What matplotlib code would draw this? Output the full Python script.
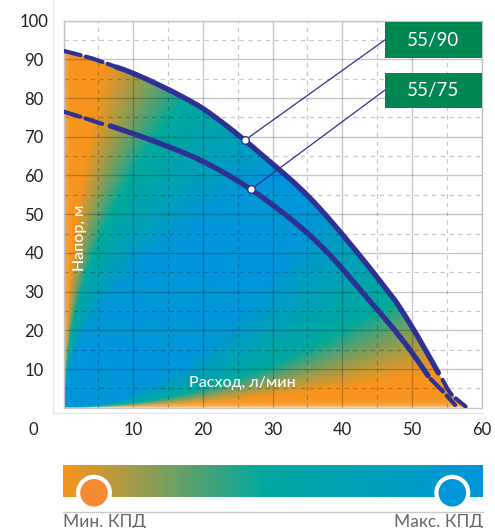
import numpy as np
import matplotlib

matplotlib.use("Agg")
import matplotlib.pyplot as plt
from matplotlib.colors import LinearSegmentedColormap
from matplotlib.lines import Line2D
from matplotlib.path import Path
from matplotlib.patches import PathPatch, Rectangle, Circle

plt.rcParams["font.family"] = ["Lato", "Noto Sans", "DejaVu Sans"]

# --- data (flow l/min, head m) ---
flow_90_head = [0, 4.0, 7.6]
head_90_head = [92.2, 90.3, 88.0]
flow_90 = [7.6, 10, 13.8, 17.2, 20, 23, 26, 29, 32.5, 35.3, 38.2, 41.1, 44, 46.8,
           48, 50.7, 53.8]
head_90 = [88.0, 86.4, 83.3, 80.2, 77.3, 73.4, 69.1, 64.5, 59.1, 54.3, 48.6, 42.4,
           36.0, 29.5, 26.6, 18.8, 9.0]
flow_90_tail = [54.4, 55.6, 57.7]
head_90_tail = [7.2, 3.6, 0.3]

flow_75_head = [0, 3.4, 5.6]
head_75_head = [76.5, 74.6, 73.3]
flow_75 = [6.7, 10, 13.8, 18, 21, 23.9, 26.9, 29.7, 32.5, 35.3, 38.2, 41.1, 43.5,
           46.8, 49.7, 52.3]
head_75 = [72.8, 70.8, 68.3, 65.3, 62.7, 59.8, 56.4, 52.8, 48.9, 44.6, 39.5, 33.6,
           28.5, 21.6, 15.0, 8.3]
flow_75_tail = [52.7, 54.4, 56.2]
head_75_tail = [7.4, 4.3, 0.7]

marker_90 = (26.0, 69.1)
marker_75 = (26.9, 56.4)
labels = ["55/90", "55/75"]
label_y = [(90.3, 99.7), (77.5, 86.6)]

x_ticks = [0, 10, 20, 30, 40, 50, 60]
y_ticks = [10, 20, 30, 40, 50, 60, 70, 80, 90, 100]

NAVY = "#2e3192"
GREEN = "#008751"
ORANGE = "#f7941d"
TEAL = "#00a99d"
BLUE = "#0096d9"
TEXT = "#231f20"

W, H = 495, 528
fig = plt.figure(figsize=(W / 100, H / 100), dpi=100)


def fx(px):
    return px / W


def fy(py):
    return 1 - py / H


def smooth_segments(pts, i0, i1):
    """Catmull-Rom through pts[i0..i1] as cubic Bezier vertices/codes."""
    pts = np.asarray(pts, float)
    n = len(pts)
    verts, codes = [pts[i0]], [Path.MOVETO]
    for i in range(i0, i1):
        p0 = pts[max(i - 1, 0)]
        p1, p2 = pts[i], pts[i + 1]
        p3 = pts[min(i + 2, n - 1)]
        verts += [p1 + (p2 - p0) / 6, p2 - (p3 - p1) / 6, p2]
        codes += [Path.CURVE4] * 3
    return verts, codes


ax = fig.add_axes([fx(63.6), fy(407.7), (481.6 - 63.6) / W, (407.7 - 20.7) / H])
ax.set_xlim(0, 60)
ax.set_ylim(0, 100)

pts_90 = list(zip(flow_90_head, head_90_head))[:-1] + list(zip(flow_90, head_90)) + \
    list(zip(flow_90_tail, head_90_tail))
pts_75 = list(zip(flow_75_head, head_75_head)) + list(zip(flow_75, head_75)) + \
    list(zip(flow_75_tail, head_75_tail))

# efficiency gradient (orange near the axes, blue in the middle)
eff_cmap = LinearSegmentedColormap.from_list(
    "eff", [(0, ORANGE), (0.476, TEAL), (1, BLUE)])
gx, gy = np.meshgrid(np.linspace(0, 60, 600), np.linspace(0, 100, 1000))
u, v = gx / 60, gy / 100
r = np.minimum(v / (u ** 2 + 1e-9), u / (v ** 2 + 1e-9))
p = np.interp(r, [0, 0.12, 0.45, 0.7, 1.35], [0, 0, 0.476, 0.64, 1])
rgb = eff_cmap(p)[..., :3]
fade = (1 - p) * (0.55 * np.exp(-gy / 0.7) + 0.35 * np.exp(-gx / 0.35))
rgb = rgb * (1 - fade[..., None]) + fade[..., None]
img = ax.imshow(rgb, extent=(0, 60, 0, 100), origin="lower", aspect="auto",
                interpolation="bilinear", zorder=0)
cv, cc = smooth_segments(pts_90, 0, len(pts_90) - 1)
clip_verts = [(0, 0), (0, pts_90[0][1])] + cv[1:] + [(57.9, 0), (0, 0)]
clip_codes = [Path.MOVETO, Path.LINETO] + cc[1:] + [Path.LINETO, Path.CLOSEPOLY]
clip = PathPatch(Path(clip_verts, clip_codes), transform=ax.transData,
                 facecolor="none", edgecolor="none")
ax.add_patch(clip)
img.set_clip_path(clip)

# grid
ax.set_xticks(x_ticks)
ax.set_xticks(np.arange(5, 60, 10), minor=True)
ax.set_yticks(y_ticks)
ax.set_yticks(np.arange(5, 100, 10), minor=True)
ax.grid(True, which="major", color="black", alpha=0.22, lw=1.0)
ax.grid(True, which="minor", color="black", alpha=0.22, lw=0.9, ls=(0, (3.5, 3.5)))
ax.set_xticklabels([""] + [str(t) for t in x_ticks[1:]])
ax.set_yticklabels([str(t) for t in y_ticks])
ax.tick_params(which="both", length=0)
ax.tick_params(axis="x", pad=10, labelsize=12, labelcolor=TEXT)
ax.tick_params(axis="y", pad=21.3, labelsize=12, labelcolor=TEXT)
for lbl in ax.get_yticklabels():
    lbl.set_horizontalalignment("center")
for sp in ax.spines.values():
    sp.set_color("#c4c4c4")
    sp.set_linewidth(1.0)
fig.text(fx(33), fy(430), "0", ha="center", va="center", fontsize=12, color=TEXT)

# pump curves: dashed extrapolation, solid working range
dash = (0, (4.2, 1.3))
n_h90 = len(flow_90_head) - 1
n_b90 = n_h90 + len(flow_90) - 1
n_h75 = len(flow_75_head) - 1
n_b75 = n_h75 + len(flow_75)
pieces = [
    (pts_90, 0, n_h90, 3.0, dash),
    (pts_90, n_h90, n_b90, 3.8, "-"),
    (pts_90, n_b90 + 1, len(pts_90) - 1, 3.0, dash),
    (pts_75, 0, n_h75, 3.0, dash),
    (pts_75, n_h75 + 1, n_b75, 3.8, "-"),
    (pts_75, n_b75 + 1, len(pts_75) - 1, 3.0, dash),
]
for pts, i0, i1, lw, ls in pieces:
    verts, codes = smooth_segments(pts, i0, i1)
    ax.add_patch(PathPatch(Path(verts, codes), facecolor="none", edgecolor=NAVY,
                           lw=lw, ls=ls, capstyle="round", zorder=4))

# label boxes with leader lines
for (mx, my), name, (y0, y1) in zip([marker_90, marker_75], labels, label_y):
    ax.plot([mx, 46.1], [my, (y0 + y1) / 2], color=NAVY, lw=0.9, zorder=5)
    ax.plot([mx], [my], marker="o", ms=5.5, mfc="white", mec=NAVY, mew=1.0, zorder=6)
    ax.add_patch(Rectangle((46.1, y0), 60 - 46.1, y1 - y0, facecolor=GREEN,
                           edgecolor="none", zorder=5, clip_on=False))
    ax.text((46.1 + 60) / 2, (y0 + y1) / 2, name, color="white", fontsize=13.5,
            ha="center", va="center", zorder=6)

ax.text(2.3, 44, "Напор, м", rotation=90, color="white", fontsize=11.5,
        fontweight="medium", ha="center", va="center", zorder=6)
ax.text(25.7, 6.4, "Расход, л/мин", color="white", fontsize=11.5,
        fontweight="medium", ha="center", va="center", zorder=6)

# faint outer frame
fig.add_artist(Line2D([fx(52.5), fx(52.5)], [fy(0), fy(413)], color="#e6e6e6",
                      lw=1.0, transform=fig.transFigure))
fig.add_artist(Line2D([fx(52.5), fx(483)], [fy(413), fy(413)], color="#e6e6e6",
                      lw=1.0, transform=fig.transFigure))

# efficiency legend bar (axes in pixel units)
lx = fig.add_axes([fx(60), 0, (486 - 60) / W, (H - 458) / H])
lx.set_xlim(60, 486)
lx.set_ylim(H, 458)
lx.axis("off")
bar = np.linspace(0, 1, 400)[None, :]
lx.imshow(eff_cmap(bar), extent=(63.3, 483, 496.7, 465), aspect="auto",
          interpolation="bilinear")
lx.plot([63.3, 483], [511.7, 511.7], color="#c8c8c8", lw=1.0)
for cx, col in [(94.0, "#f58a30"), (452.3, BLUE)]:
    lx.add_patch(Circle((cx, 492.8), 18.0, facecolor="white", edgecolor="none", zorder=3))
    lx.add_patch(Circle((cx, 492.8), 13.8, facecolor=col, edgecolor="none", zorder=4))
lx.text(63.3, 513.5, "Мин. КПД", ha="left", va="top", fontsize=12.5, color="#666666")
lx.text(483, 513.5, "Макс. КПД", ha="right", va="top", fontsize=12.5, color="#666666")

fig.savefig("out.png", dpi=100)
